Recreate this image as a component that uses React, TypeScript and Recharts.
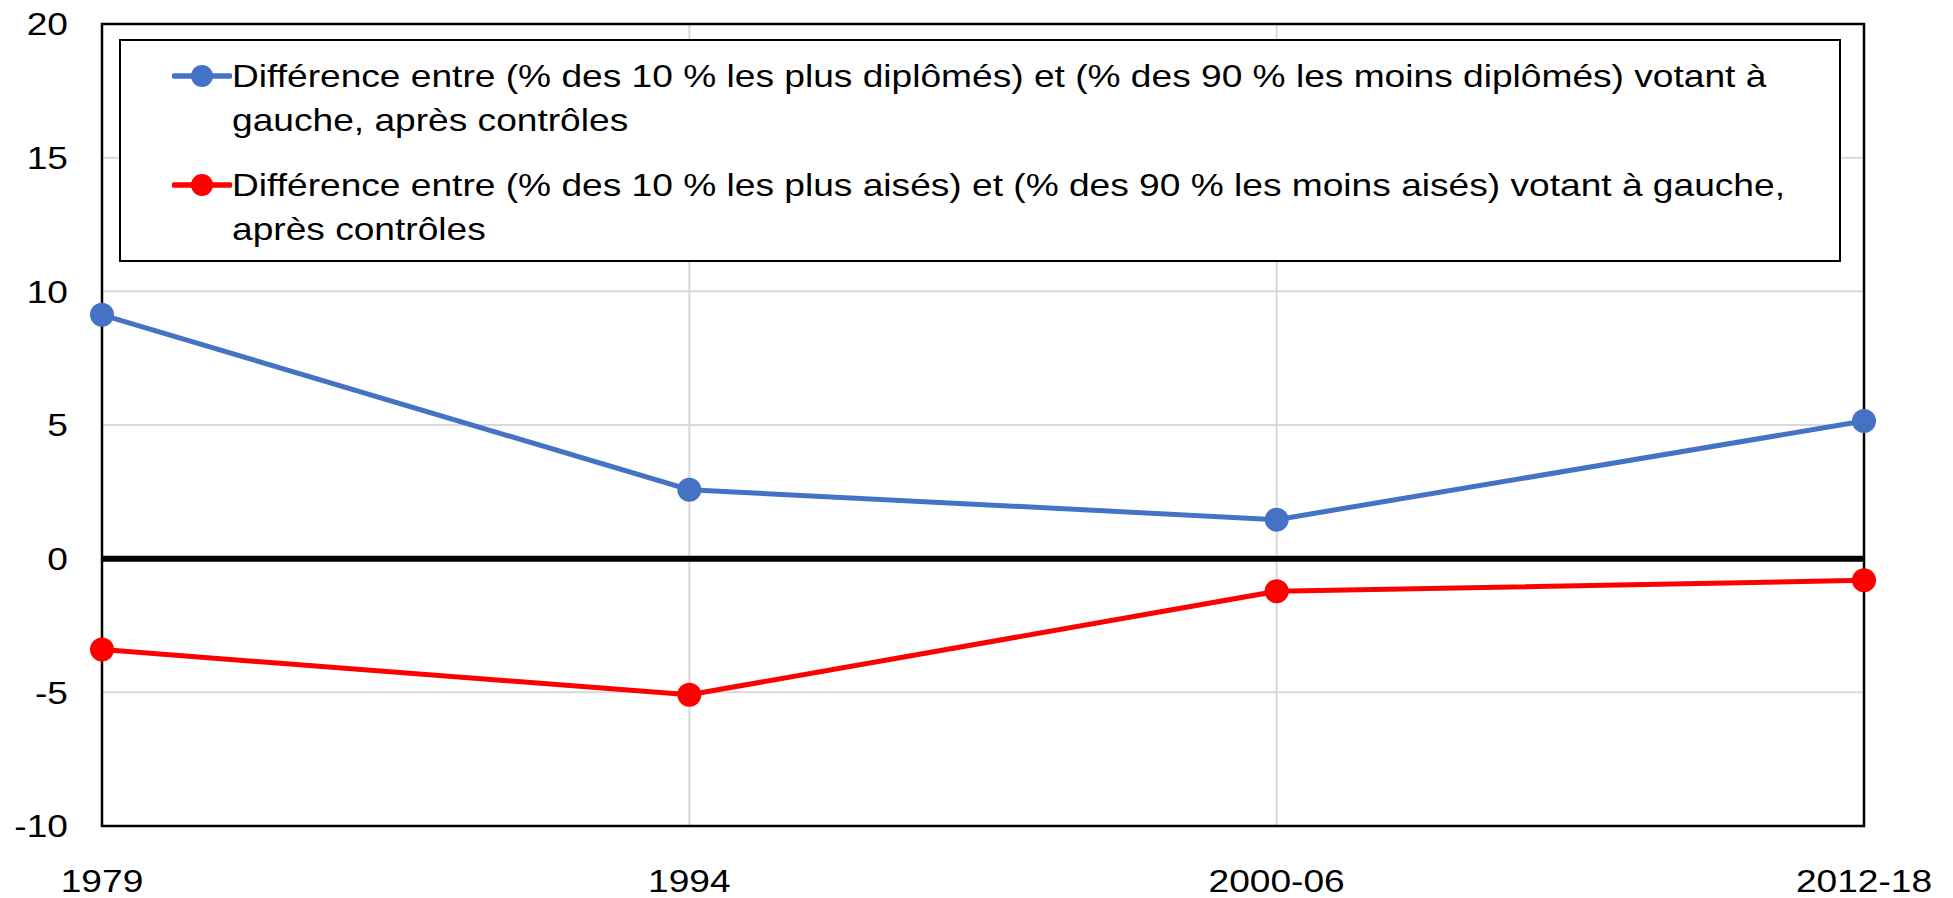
import {
  LineChart,
  Line,
  XAxis,
  YAxis,
  CartesianGrid,
  Legend,
  ReferenceLine,
  ReferenceArea,
} from "recharts";

const periods = ["1979", "1994", "2000-06", "2012-18"];
const diplomesGap = [9.12, 2.58, 1.46, 5.15];
const revenusGap = [-3.4, -5.09, -1.22, -0.81];
const yTicks = [-10, -5, 0, 5, 10, 15, 20];

const seriesInfo = [
  {
    key: "diplomes",
    color: "#4472C4",
    lines: [
      "Différence entre (% des 10 % les plus diplômés) et (% des 90 % les moins diplômés) votant à",
      "gauche, après contrôles",
    ],
  },
  {
    key: "revenus",
    color: "#FF0000",
    lines: [
      "Différence entre (% des 10 % les plus aisés) et (% des 90 % les moins aisés) votant à gauche,",
      "après contrôles",
    ],
  },
];

const data = periods.map((p, i) => ({
  period: p,
  diplomes: diplomesGap[i],
  revenus: revenusGap[i],
}));

const FONT = "'Liberation Sans', Arial, sans-serif";
const STRETCH = 1.16;

function YTick({ x, y, payload }: any) {
  const tx = x - 34;
  const ty = y + 11.5;
  return (
    <text
      x={tx}
      y={ty}
      textAnchor="end"
      fontSize={32}
      fontFamily={FONT}
      fill="#000"
      transform={`translate(${tx},0) scale(${STRETCH},1) translate(${-tx},0)`}
    >
      {payload.value}
    </text>
  );
}

function XTick({ x, y, payload }: any) {
  return (
    <text
      x={x}
      y={y + 66}
      textAnchor="middle"
      fontSize={32}
      fontFamily={FONT}
      fill="#000"
      transform={`translate(${x},0) scale(${STRETCH},1) translate(${-x},0)`}
    >
      {payload.value}
    </text>
  );
}

function LegendBox() {
  return (
    <div
      style={{
        position: "absolute",
        left: 119,
        top: 39,
        width: 1722,
        height: 223,
        boxSizing: "border-box",
        border: "2px solid #000",
        background: "#fff",
        fontFamily: FONT,
        fontSize: 32,
        lineHeight: "44px",
        paddingTop: 13,
        color: "#000",
      }}
    >
      {seriesInfo.map((s, idx) => (
        <div key={s.key} style={{ position: "relative", marginTop: idx === 0 ? 0 : 21 }}>
          <svg
            width={60}
            height={30}
            style={{ position: "absolute", left: 51, top: 7 }}
          >
            <line x1={2} y1={15} x2={58} y2={15} stroke={s.color} strokeWidth={5.5} strokeLinecap="round" />
            <circle cx={30} cy={15} r={11} fill={s.color} />
          </svg>
          {s.lines.map((t, j) => (
            <div key={j} style={{ paddingLeft: 111, height: 44, whiteSpace: "nowrap" }}>
              <span
                style={{
                  display: "inline-block",
                  transform: `scaleX(${STRETCH})`,
                  transformOrigin: "left center",
                }}
              >
                {t}
              </span>
            </div>
          ))}
        </div>
      ))}
    </div>
  );
}

export default function App() {
  return (
    <div style={{ position: "absolute", left: 0, top: 0, width: 1953, height: 898, background: "#fff" }}>
      <LineChart
        width={1953}
        height={898}
        data={data}
        margin={{ top: 24, right: 89, bottom: 12, left: 2 }}
      >
        <CartesianGrid stroke="#D9D9D9" strokeWidth={2} />
        <XAxis
          dataKey="period"
          height={60}
          tickLine={false}
          axisLine={false}
          tickSize={0}
          tickMargin={0}
          interval={0}
          tick={<XTick />}
        />
        <YAxis
          domain={[-10, 20]}
          ticks={yTicks}
          width={100}
          tickLine={false}
          axisLine={false}
          tickSize={0}
          tickMargin={0}
          tick={<YTick />}
        />
        <ReferenceArea
          x1="1979"
          x2="2012-18"
          y1={-10}
          y2={20}
          fill="none"
          fillOpacity={0}
          stroke="#000"
          strokeWidth={2.5}
          ifOverflow="visible"
        />
        <ReferenceLine y={0} stroke="#000" strokeWidth={6} />
        <Line
          dataKey="diplomes"
          stroke="#4472C4"
          strokeWidth={5}
          dot={{ r: 12, fill: "#4472C4", stroke: "#4472C4", strokeWidth: 0 }}
          isAnimationActive={false}
        />
        <Line
          dataKey="revenus"
          stroke="#FF0000"
          strokeWidth={5}
          dot={{ r: 12, fill: "#FF0000", stroke: "#FF0000", strokeWidth: 0 }}
          isAnimationActive={false}
        />
        <Legend content={() => <LegendBox />} wrapperStyle={{ position: "absolute", left: 0, top: 0, width: 0, height: 0 }} />
      </LineChart>
    </div>
  );
}
